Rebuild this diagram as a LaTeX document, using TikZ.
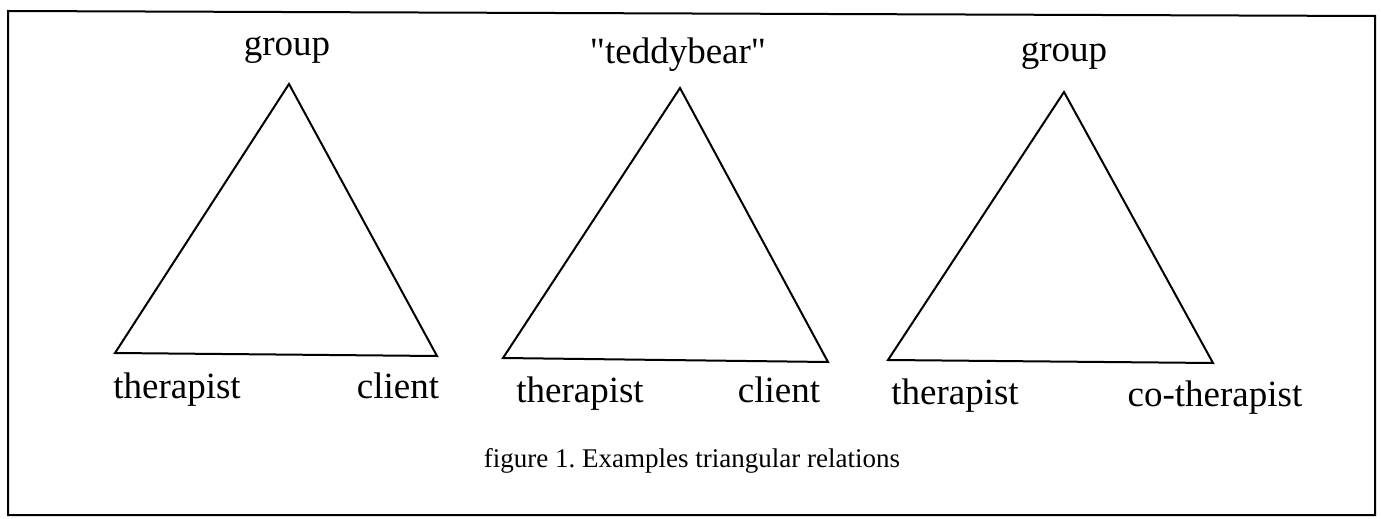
\documentclass[tikz,border=0pt]{standalone}
\usepackage{fontspec}
\setmainfont{Liberation Serif}
\begin{document}
\begin{tikzpicture}[x=0.5pt,y=-0.5pt,
  lbl/.style={anchor=base,inner sep=0pt,font=\fontsize{18.5}{20}\selectfont},
  captxt/.style={anchor=base,inner sep=0pt,font=\fontsize{13.5}{15}\selectfont},
  edge/.style={line width=1pt,line join=miter}]
\useasboundingbox (0,0) rectangle (1381,519);
% frame
\coordinate (f1) at (8,11);
\coordinate (f2) at (1375,16);
\coordinate (f3) at (1375,515);
\coordinate (f4) at (8,515);
\draw[line width=1pt] (f1) -- (f2) -- (f3) -- (f4) -- cycle;
% triangle 1
\coordinate (a1) at (289,84);
\coordinate (b1) at (115,353);
\coordinate (c1) at (437,356);
\draw[edge] (a1) -- (b1) -- (c1) -- cycle;
% triangle 2
\coordinate (a2) at (680,88);
\coordinate (b2) at (503,358);
\coordinate (c2) at (828,362);
\draw[edge] (a2) -- (b2) -- (c2) -- cycle;
% triangle 3
\coordinate (a3) at (1064,92);
\coordinate (b3) at (888,360);
\coordinate (c3) at (1213,363);
\draw[edge] (a3) -- (b3) -- (c3) -- cycle;
% labels
\node[lbl] (t1) at (287,56) {group};
\node[lbl] (l1) at (177,398) {therapist};
\node[lbl] (r1) at (398,398) {client};
\node[lbl] (t2) at (678,64) {\textquotedbl teddybear\textquotedbl};
\node[lbl] (l2) at (580,402) {therapist};
\node[lbl] (r2) at (779,402) {client};
\node[lbl] (t3) at (1064,62) {group};
\node[lbl] (l3) at (955,404) {therapist};
\node[lbl] (r3) at (1215,406) {co-therapist};
\node[captxt] (fig) at (692,467) {figure 1.\ Examples triangular relations};
\end{tikzpicture}
\end{document}
